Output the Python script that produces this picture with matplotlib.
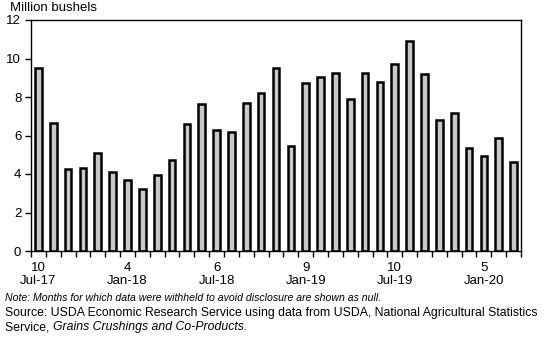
import matplotlib
matplotlib.use("Agg")
import matplotlib.pyplot as plt
import numpy as np

plt.rcParams['font.family'] = ['Liberation Sans', 'DejaVu Sans']

# monthly values, Jul-17 .. Mar-20 (million bushels)
months = ['Jul-17', 'Aug-17', 'Sep-17', 'Oct-17', 'Nov-17', 'Dec-17',
          'Jan-18', 'Feb-18', 'Mar-18', 'Apr-18', 'May-18', 'Jun-18',
          'Jul-18', 'Aug-18', 'Sep-18', 'Oct-18', 'Nov-18', 'Dec-18',
          'Jan-19', 'Feb-19', 'Mar-19', 'Apr-19', 'May-19', 'Jun-19',
          'Jul-19', 'Aug-19', 'Sep-19', 'Oct-19', 'Nov-19', 'Dec-19',
          'Jan-20', 'Feb-20', 'Mar-20']
values = [9.52, 6.66, 4.27, 4.33, 5.10, 4.12, 3.69, 3.24, 3.96, 4.74, 6.61,
          7.63, 6.26, 6.19, 7.70, 8.22, 9.52, 5.47, 8.74, 9.05, 9.26, 7.92,
          9.26, 8.79, 9.74, 10.92, 9.17, 6.82, 7.18, 5.33, 4.95, 5.88, 4.64]
label_idx = [0, 6, 12, 18, 24, 30]
label_top = ['10', '4', '6', '9', '10', '5']

fig = plt.figure(figsize=(5.45, 3.42), dpi=100)
ax = fig.add_axes([31/545, 1 - 251/342, 490/545, 231/342])

x = np.arange(len(values))
ax.bar(x, values, width=0.45, color='#c8c8c8', edgecolor='black', linewidth=1.8)

ax.set_xlim(-0.5, len(values) - 0.5)
ax.set_ylim(0, 12)
ax.set_yticks(range(0, 13, 2))
ax.tick_params(axis='y', direction='out', length=4, width=1, labelsize=9.5, pad=3)

ax.set_xticks(x[label_idx])
ax.set_xticklabels([f'{a}\n{months[i]}' for a, i in zip(label_top, label_idx)],
                   fontsize=9.5, linespacing=1.1)
ax.tick_params(axis='x', which='major', length=0, pad=8)
ax.set_xticks(np.arange(-0.5, len(values)), minor=True)
ax.tick_params(axis='x', which='minor', direction='out', length=4, width=1)

for s in ax.spines.values():
    s.set_linewidth(1)

fig.text(10/545, 1 - 8/342, 'Million bushels', fontsize=9.5, va='center')

fig.text(5/545, 1 - 298/342,
         'Note: Months for which data were withheld to avoid disclosure are shown as null.',
         fontsize=7.6, style='italic', va='center')
fig.text(5/545, 1 - 313/342,
         'Source: USDA Economic Research Service using data from USDA, National Agricultural Statistics',
         fontsize=8.8, va='center')
t = fig.text(5/545, 1 - 327/342, 'Service, ', fontsize=8.8, va='center')
ax.annotate('Grains Crushings and Co-Products.', xy=(1, 0.5), xycoords=t,
            fontsize=8.8, style='italic', va='center', ha='left')

fig.savefig('out.png', dpi=100)
